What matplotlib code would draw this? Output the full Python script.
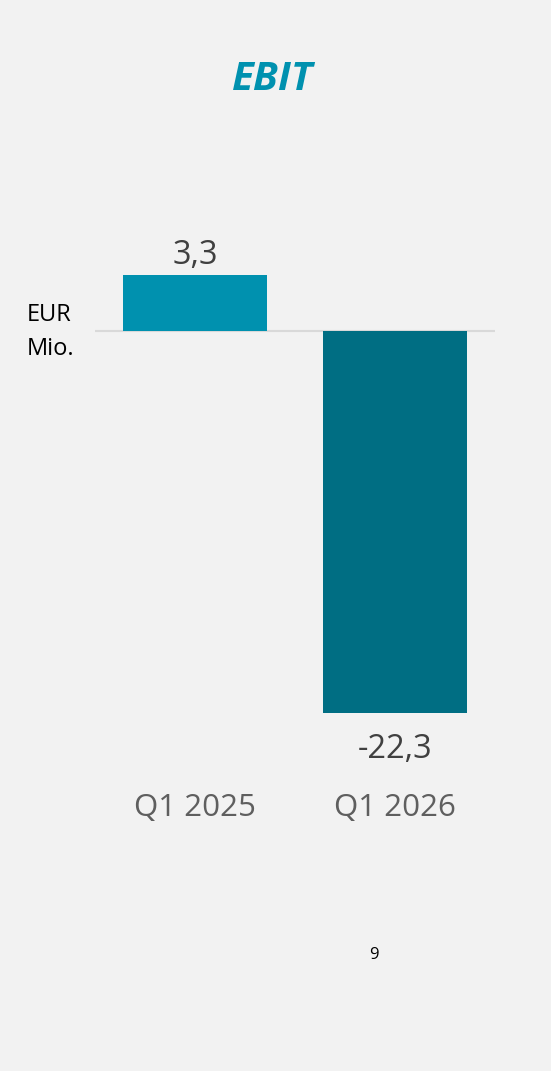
import matplotlib.pyplot as plt

# --- data ---
categories = ["Q1 2025", "Q1 2026"]
ebit = [3.3, -22.3]
value_labels = ["3,3", "-22,3"]
bar_colors = ["#0091af", "#006e83"]

W, H = 551, 1071
plt.rcParams["font.family"] = ["Open Sans", "DejaVu Sans"]

fig = plt.figure(figsize=(W / 100, H / 100), dpi=100, facecolor="#f2f2f2")

# axes placed in pixel terms: x 95..495, y 275..713
ax = fig.add_axes([95 / W, (H - 713) / H, 400 / W, 438 / H])
ax.set_facecolor("none")
x = list(range(len(categories)))
ax.bar(x, ebit, width=0.72, color=bar_colors, zorder=2)
ax.axhline(0, color="#d9d9d9", lw=1.5, zorder=1)
ax.set_xlim(-0.5, 1.5)
ax.set_ylim(min(ebit), max(ebit))
ax.axis("off")

for xi, v, lab, cat in zip(x, ebit, value_labels, categories):
    if v >= 0:
        ax.annotate(lab, (xi, v), xytext=(0, 20), textcoords="offset pixels",
                    ha="center", va="center", fontsize=23.5, color="#404040")
    else:
        ax.annotate(lab, (xi, v), xytext=(0, -36), textcoords="offset pixels",
                    ha="center", va="center", fontsize=23.5, color="#404040")
    ax.annotate(cat, (xi, min(ebit)), xytext=(0, -95), textcoords="offset pixels",
                ha="center", va="center", fontsize=22.5, color="#5f5f5f",
                annotation_clip=False)

fig.text(273 / W, 1 - 80 / H, "EBIT", ha="center", va="center", fontsize=29,
         fontweight="bold", fontstyle="italic", color="#0091af")
fig.text(27 / W, 1 - 315 / H, "EUR", ha="left", va="center", fontsize=17, color="black")
fig.text(27 / W, 1 - 349 / H, "Mio.", ha="left", va="center", fontsize=17, color="black")
fig.text(374 / W, 1 - 955 / H, "9", ha="center", va="center", fontsize=12, color="black")

fig.savefig("out.png", dpi=100, facecolor=fig.get_facecolor())
